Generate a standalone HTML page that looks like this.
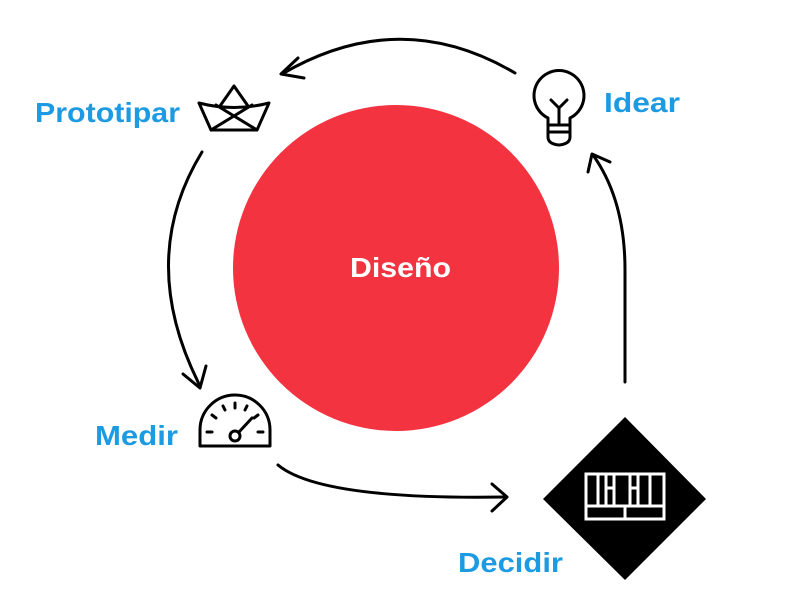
<!DOCTYPE html>
<html><head><style>
body{margin:0;background:#fff;width:800px;height:600px;overflow:hidden}
svg{display:block}
text{font-family:"Liberation Sans",sans-serif;font-weight:bold}
</style></head><body>
<svg width="800" height="600" viewBox="0 0 800 600">
<circle cx="396" cy="268" r="163" fill="#f43341"/>
<text x="350" y="277" font-size="28" fill="#fff" textLength="101" lengthAdjust="spacingAndGlyphs">Diseño</text>
<g fill="#1d9be2" font-size="28">
<text x="35" y="122" textLength="145" lengthAdjust="spacingAndGlyphs">Prototipar</text>
<text x="604" y="112" textLength="76" lengthAdjust="spacingAndGlyphs">Idear</text>
<text x="95" y="445" textLength="83" lengthAdjust="spacingAndGlyphs">Medir</text>
<text x="458" y="572" textLength="105" lengthAdjust="spacingAndGlyphs">Decidir</text>
</g>
<g fill="none" stroke="#000" stroke-width="3" stroke-linecap="round" stroke-linejoin="round">
<path d="M515 73 Q400 5 282 74"/>
<path d="M298 58 L281 74 L304 78"/>
<path d="M202 152 Q136 260 200 386"/>
<path d="M183 374 L200 388 L206 366"/>
<path d="M278 465 Q320 500 505 497"/>
<path d="M492 484 L507 497 L492 511"/>
<path d="M625 382 L625 270 Q625 200 593 155"/>
<path d="M588 172 L592 154 L610 162"/>
<!-- boat -->
<path d="M199 103 Q234 112 269 103 L257 130 L211 130 Z"/>
<path d="M220 106 L234 86 L248 106"/>
<path d="M211 130 L252 105 M257 130 L216 105"/>
<!-- bulb -->
<path d="M548 125 L548 118 A25 25 0 1 1 570 118 L570 125 Z"/>
<path d="M548 125 L548 137 Q548 144 559 145 Q570 144 570 137 L570 125 M548 132 L570 132"/>
<path d="M559 125 L559 108 M551 100 L559 108 L567 100"/>
<!-- gauge -->
<path d="M200 446 L200 430 A35 35 0 0 1 270 430 L270 446 Z"/>
<circle cx="235" cy="436" r="5"/>
<path d="M239 432 L252 418"/>
<path d="M207 432 L212 432 M212 415 L216 418 M223 406 L225 410 M235 403 L235 408 M247 406 L245 410 M263 432 L258 432 M258 415 L254 418"/>
</g>
<polygon points="625,417 706,499 625,580 543,499" fill="#000"/>
<g fill="none" stroke="#fff" stroke-width="3">
<rect x="586" y="474" width="78" height="45"/>
<path d="M586 506 L664 506 M625 506 L625 519"/>
<path d="M598 474 L598 506 M606 474 L606 506 M614 474 L614 506 M630 474 L630 506 M638 474 L638 506 M650 474 L650 506"/>
<path d="M606 488 L614 488 M630 488 L638 488"/>
</g>
</svg>
</body></html>
